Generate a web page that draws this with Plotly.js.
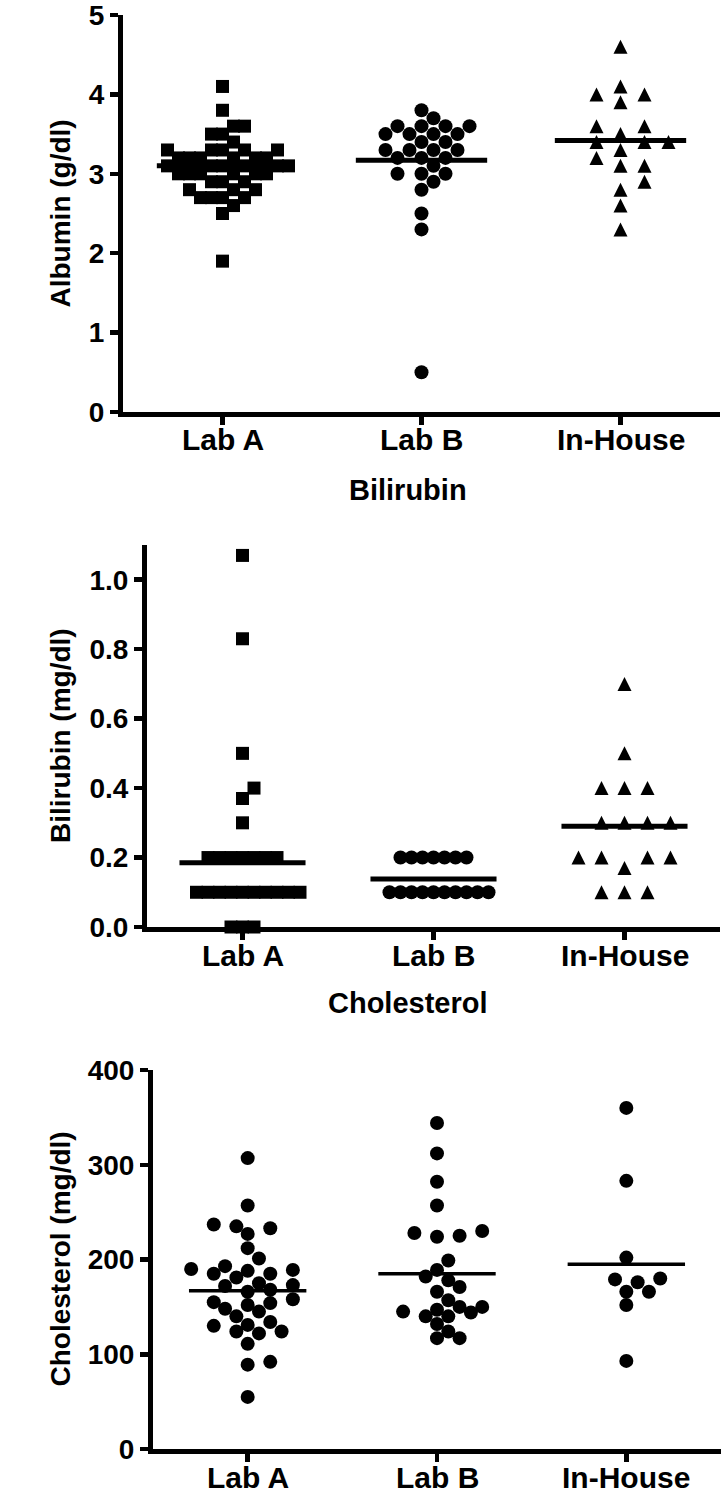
<!DOCTYPE html>
<html>
<head>
<meta charset="utf-8">
<script src="https://cdn.plot.ly/plotly-3.0.1.min.js"></script>
<style>html,body{margin:0;padding:0;background:#fff;}#chart{width:724px;height:1503px;}</style>
</head>
<body>
<div id="chart"></div>
<script>
// ---------------- DATA ----------------
const categories = ['Lab A', 'Lab B', 'In-House'];

// Albumin (g/dl)
const albuminLabA = [4.1, 3.8, 3.6, 3.6, 3.5, 3.5, 3.4, 3.3, 3.3, 3.3, 3.3, 3.3, 3.2, 3.2, 3.2, 3.2, 3.2, 3.2,
  3.1, 3.1, 3.1, 3.1, 3.1, 3.1, 3.0, 3.0, 3.0, 3.0, 3.0, 3.0, 2.9, 2.9, 2.9, 2.8, 2.8, 2.8,
  2.7, 2.7, 2.7, 2.7, 2.6, 2.5, 1.9];
const albuminLabB = [3.8, 3.7, 3.6, 3.6, 3.6, 3.6, 3.5, 3.5, 3.5, 3.5, 3.4, 3.4, 3.3, 3.3, 3.3, 3.3,
  3.2, 3.2, 3.2, 3.1, 3.0, 3.0, 3.0, 2.9, 2.8, 2.5, 2.3, 0.5];
const albuminInHouse = [4.6, 4.1, 4.0, 4.0, 3.9, 3.6, 3.6, 3.5, 3.4, 3.4, 3.4, 3.3, 3.2, 3.1, 3.1, 2.9, 2.8, 2.6, 2.3];
const albuminMeans = [3.10, 3.17, 3.42];
const albuminTicks = [0, 1, 2, 3, 4, 5];
const albuminTickText = ['0', '1', '2', '3', '4', '5'];

// Bilirubin (mg/dl)
const bilirubinLabA = [1.07, 0.83, 0.5, 0.4, 0.37, 0.3, 0.2, 0.2, 0.2, 0.2, 0.2, 0.2, 0.2,
  0.1, 0.1, 0.1, 0.1, 0.1, 0.1, 0.1, 0.1, 0.1, 0.1, 0.0, 0.0, 0.0];
const bilirubinLabB = [0.2, 0.2, 0.2, 0.2, 0.2, 0.2, 0.2, 0.1, 0.1, 0.1, 0.1, 0.1, 0.1, 0.1, 0.1, 0.1, 0.1];
const bilirubinInHouse = [0.7, 0.5, 0.4, 0.4, 0.4, 0.3, 0.3, 0.3, 0.3, 0.2, 0.2, 0.2, 0.2, 0.17, 0.1, 0.1, 0.1];
const bilirubinMeans = [0.185, 0.138, 0.29];
const bilirubinTicks = [0, 0.2, 0.4, 0.6, 0.8, 1.0];
const bilirubinTickText = ['0.0', '0.2', '0.4', '0.6', '0.8', '1.0'];

// Cholesterol (mg/dl)
const cholesterolLabA = [307, 257, 237, 233, 235, 227, 212, 201, 188, 185, 190, 189, 193, 185, 181, 173, 175,
  172, 166, 168, 155, 154, 158, 148, 152, 145, 140, 134, 131, 130, 124, 122, 124, 111, 92, 89, 55];
const cholesterolLabB = [344, 312, 282, 257, 228, 224, 225, 230, 199, 189, 182, 178, 171, 166, 157, 150, 150,
  147, 144, 145, 140, 140, 132, 124, 117, 117];
const cholesterolInHouse = [360, 283, 202, 176, 179, 180, 166, 166, 152, 93];
const cholesterolMeans = [167, 185, 195];
const cholesterolTicks = [0, 100, 200, 300, 400];
const cholesterolTickText = ['0', '100', '200', '300', '400'];

// ---------------- LAYOUT / STYLE ----------------
const W = 724, H = 1503;
const FONT = 'Liberation Sans, Arial, sans-serif';
const TRI = 'arrow-down'; // rotated 180deg -> upward triangle, centred with standoff
const panels = [
  { groups: [albuminLabA, albuminLabB, albuminInHouse], means: albuminMeans,
    symbols: ['square', 'circle', TRI], sizes: [13, 14, 14],
    left: 123, right: 720, top: 15, bottom: 412, yrange: [0, 5],
    tickvals: albuminTicks, ticktext: albuminTickText, ytitle: 'Albumin (g/dl)',
    swarm: [{u: 11, c: 10.5}, {u: 12, c: 14}, {u: 24, c: 15}], meanHalf: 0.33, meanWidth: 5, title: null },
  { groups: [bilirubinLabA, bilirubinLabB, bilirubinInHouse], means: bilirubinMeans,
    symbols: ['square', 'circle', TRI], sizes: [13, 14, 14],
    left: 147, right: 720, top: 545, bottom: 927, yrange: [0, 1.1],
    tickvals: bilirubinTicks, ticktext: bilirubinTickText, ytitle: 'Bilirubin (mg/dl)',
    swarm: [{u: 11.5, c: 11}, {u: 11, c: 10}, {u: 23, c: 20}], meanHalf: 0.33, meanWidth: 5,
    title: 'Bilirubin', titleX: 408, titleY: 490 },
  { groups: [cholesterolLabA, cholesterolLabB, cholesterolInHouse], means: cholesterolMeans,
    symbols: ['circle', 'circle', 'circle'], sizes: [14, 14, 14],
    left: 153, right: 721, top: 1070, bottom: 1449, yrange: [0, 400],
    tickvals: cholesterolTicks, ticktext: cholesterolTickText, ytitle: 'Cholesterol (mg/dl)',
    swarm: [{u: 11.3, c: 13}, {u: 11.3, c: 12.5}, {u: 11.3, c: 13}], meanHalf: 0.31, meanWidth: 3.5,
    title: 'Cholesterol', titleX: 408, titleY: 1003 }
];

// Beeswarm: place points (ascending) at the offset nearest the centre that does not collide
function swarm(values, u, c, pxPerY) {
  const order = values.map((v, i) => i).sort((a, b) => values[a] - values[b]);
  const placed = [];
  const off = new Array(values.length);
  order.forEach(i => {
    const y = values[i] * pxPerY;
    for (let k = 0; k < 200; k++) {
      const m = k === 0 ? 0 : (k % 2 === 1 ? (k + 1) / 2 : -k / 2);
      const x = m * u;
      if (placed.every(p => Math.hypot(p.x - x, p.y - y) >= c - 1e-6)) {
        placed.push({x, y}); off[i] = x; break;
      }
    }
  });
  return off;
}

const traces = [];
const layout = {
  width: W, height: H, margin: {l: 0, r: 0, t: 0, b: 0},
  paper_bgcolor: '#fff', plot_bgcolor: 'rgba(0,0,0,0)', showlegend: false,
  font: {family: FONT, size: 28, color: '#000', weight: 'bold'},
  annotations: []
};

panels.forEach((p, pi) => {
  const n = pi === 0 ? '' : String(pi + 1);
  const xa = 'x' + n, ya = 'y' + n;
  const plotW = p.right - p.left, plotH = p.bottom - p.top;
  const pxPerCat = plotW / 3;
  const pxPerY = plotH / (p.yrange[1] - p.yrange[0]);

  p.groups.forEach((vals, gi) => {
    const off = swarm(vals, p.swarm[gi].u, p.swarm[gi].c, pxPerY);
    const isTri = p.symbols[gi] === TRI;
    traces.push({
      type: 'scatter', mode: 'markers', xaxis: xa, yaxis: ya, cliponaxis: false, hoverinfo: 'skip',
      x: vals.map((v, i) => gi + off[i] / pxPerCat), y: vals,
      marker: {symbol: p.symbols[gi], size: p.sizes[gi], color: '#000', line: {width: 0},
        angle: isTri ? 180 : 0, standoff: isTri ? p.sizes[gi] / 2 : 0}
    });
    traces.push({
      type: 'scatter', mode: 'lines', xaxis: xa, yaxis: ya, cliponaxis: false, hoverinfo: 'skip',
      x: [gi - p.meanHalf, gi + p.meanHalf], y: [p.means[gi], p.means[gi]],
      line: {color: '#000', width: p.meanWidth}
    });
  });

  layout['xaxis' + n] = {
    domain: [p.left / W, p.right / W], anchor: ya, range: [-0.5, 2.5],
    tickvals: [0, 1, 2], ticktext: ['', '', ''], showgrid: false, zeroline: false,
    showline: true, linecolor: '#000', linewidth: 5, ticks: 'outside', ticklen: 8, tickwidth: 4.5,
    tickcolor: '#000', fixedrange: true
  };
  layout['yaxis' + n] = {
    domain: [1 - p.bottom / H, 1 - p.top / H], anchor: xa, range: p.yrange,
    tickvals: p.tickvals, ticktext: p.ticktext, showgrid: false, zeroline: false,
    showline: true, linecolor: '#000', linewidth: 5, ticks: 'outside', ticklen: 8, tickwidth: 4.5,
    tickcolor: '#000', ticklabeloverflow: 'allow',
    tickfont: {family: FONT, size: 28, color: '#000', weight: 'bold'}, fixedrange: true
  };
  // category labels under the x axis
  categories.forEach((cat, ci) => {
    layout.annotations.push({
      text: cat, xref: xa, yref: 'paper', x: ci, y: 1 - (p.bottom + 28) / H,
      xanchor: 'center', yanchor: 'middle', showarrow: false,
      font: {family: FONT, size: 30, color: '#000', weight: 'bold'}
    });
  });
  layout.annotations.push({
    text: p.ytitle, xref: 'paper', yref: 'paper', x: 60 / W, y: 1 - ((p.top + p.bottom) / 2) / H,
    xanchor: 'center', yanchor: 'middle', textangle: -90, showarrow: false,
    font: {family: FONT, size: 28, color: '#000', weight: 'bold'}
  });
  if (p.title) {
    layout.annotations.push({
      text: p.title, xref: 'paper', yref: 'paper', x: p.titleX / W, y: 1 - p.titleY / H,
      xanchor: 'center', yanchor: 'middle', showarrow: false,
      font: {family: FONT, size: 29, color: '#000', weight: 'bold'}
    });
  }
});

Plotly.newPlot('chart', traces, layout, {displayModeBar: false, staticPlot: true});
</script>
</body>
</html>
